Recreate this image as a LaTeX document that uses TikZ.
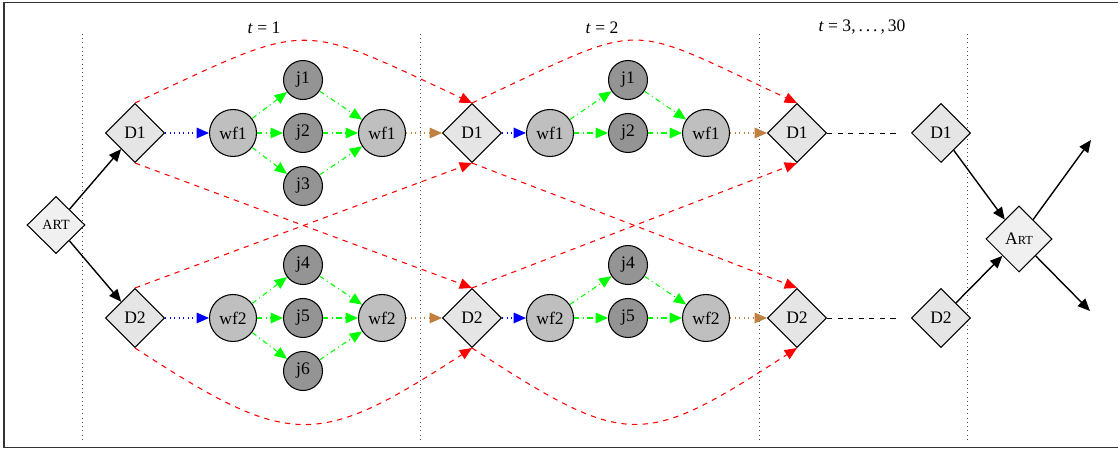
\documentclass[tikz,border=0pt]{standalone}
\usepackage{fontspec}
\setmainfont{Liberation Serif}
\usetikzlibrary{arrows.meta,shapes.geometric,positioning}

\begin{document}
\begin{tikzpicture}[->,>={Triangle[length=7pt,width=6pt]},auto,node distance=1.06cm,
                    semithick,x=0.02cm,y=0.02cm,
  dnode/.style={diamond,draw,fill=black!10,inner sep=0pt,aspect=1,
                minimum width=1.18cm,minimum height=1.18cm},
  artnode/.style={diamond,draw,fill=black!6,inner sep=0pt,aspect=1,
                minimum width=1.16cm,minimum height=1.14cm},
  wfnode/.style={circle,draw,fill=black!25,inner sep=0pt,minimum size=0.94cm},
  jnode/.style={circle,draw,fill=black!42,inner sep=0pt,minimum size=0.78cm},
  launch/.style={blue,dotted},
  fork/.style={green,dash dot},
  handoff/.style={brown,dotted},
  carry/.style={red,dashed}]

  \useasboundingbox (0,0) rectangle (1118,449);
  \draw[-,line width=0.9pt,black!80] (4,1.5) rectangle (1130,446.5);

  % time periods
  \draw[-,thin,dotted,black!70] (82,415) -- (82,7);
  \draw[-,thin,dotted,black!70] (420,415) -- (420,7);
  \draw[-,thin,dotted,black!70] (759,415) -- (759,7);
  \draw[-,thin,dotted,black!70] (967,415) -- (967,7);
  \node (t1) at (264,421) {\textit{t} = 1};
  \node (t2) at (602,421) {\textit{t} = 2};
  \node (t3) at (862,422) {\textit{t} = 3,\,.\,.\,.\,,\,30};

  \node[artnode] (artL) at (56,224) {\footnotesize ART};
  \node[dnode]   (d1a) at (135,316) {D1};
  \node[dnode]   (d2a) at (135,131) {D2};

  \node[wfnode]  (wf1a) at (233,316) {wf1};
  \node[jnode]   (j2a) at (303,316) {j2};
  \node[jnode]   (j1a) [above of=j2a] {j1};
  \node[jnode]   (j3a) [below of=j2a] {j3};
  \node[wfnode]  (wf1b) at (382,316) {wf1};

  \node[wfnode]  (wf2a) at (233,131) {wf2};
  \node[jnode]   (j5a) at (303,131) {j5};
  \node[jnode]   (j4a) [above of=j5a] {j4};
  \node[jnode]   (j6a) [below of=j5a] {j6};
  \node[wfnode]  (wf2b) at (382,131) {wf2};

  \node[dnode]   (d1b) at (472,316) {D1};
  \node[dnode]   (d2b) at (472,131) {D2};

  \node[wfnode]  (wf1c) at (550,316) {wf1};
  \node[jnode]   (j2b) at (628,316) {j2};
  \node[jnode]   (j1b) [above of=j2b] {j1};
  \node[wfnode]  (wf1d) at (706,316) {wf1};

  \node[wfnode]  (wf2c) at (550,131) {wf2};
  \node[jnode]   (j5b) at (628,131) {j5};
  \node[jnode]   (j4b) [above of=j5b] {j4};
  \node[wfnode]  (wf2d) at (706,131) {wf2};

  \node[dnode]   (d1c) at (797,316) {D1};
  \node[dnode]   (d2c) at (797,131) {D2};
  \coordinate    (e1) at (897,316);
  \coordinate    (e2) at (897,131);

  \node[dnode]   (d1d) at (941,316) {D1};
  \node[dnode]   (d2d) at (941,131) {D2};
  \node[artnode,minimum width=1.32cm,minimum height=1.32cm] (artR) at (1019,210) {A{\scriptsize RT}};
  \coordinate    (o1) at (1091,309);
  \coordinate    (o2) at (1090,138);

  \path (artL) edge [thick]    (d1a)
               edge [thick]    (d2a)
        (d1a)  edge [launch]   (wf1a)
        (wf1a) edge [fork]     (j1a)
               edge [fork]     (j2a)
               edge [fork]     (j3a)
        (j1a)  edge [fork]     (wf1b)
        (j2a)  edge [fork]     (wf1b)
        (j3a)  edge [fork]     (wf1b)
        (wf1b) edge [handoff]  (d1b)
        (d2a)  edge [launch]   (wf2a)
        (wf2a) edge [fork]     (j4a)
               edge [fork]     (j5a)
               edge [fork]     (j6a)
        (j4a)  edge [fork]     (wf2b)
        (j5a)  edge [fork]     (wf2b)
        (j6a)  edge [fork]     (wf2b)
        (wf2b) edge [handoff]  (d2b)
        (d1b)  edge [launch]   (wf1c)
        (wf1c) edge [fork]     (j1b)
               edge [fork]     (j2b)
        (j1b)  edge [fork]     (wf1d)
        (j2b)  edge [fork]     (wf1d)
        (wf1d) edge [handoff]  (d1c)
        (d2b)  edge [launch]   (wf2c)
        (wf2c) edge [fork]     (j4b)
               edge [fork]     (j5b)
        (j4b)  edge [fork]     (wf2d)
        (j5b)  edge [fork]     (wf2d)
        (wf2d) edge [handoff]  (d2c)
        (d1c)  edge [-,thin,dashed] (e1)
        (d2c)  edge [-,thin,dashed] (e2)
        (d1d)  edge [thick]    (artR)
        (d2d)  edge [thick]    (artR)
        (artR) edge [thick]    (o1)
               edge [thick]    (o2);

  % carried over decisions
  \path (d1a.north) edge [carry,out=25,in=155,looseness=1.49]   (d1b.north)
        (d1a.south) edge [carry]                                (d2b.north)
        (d2a.north) edge [carry]                                (d1b.south)
        (d2a.south) edge [carry,out=-33,in=-147,looseness=1.41] (d2b.south)
        (d1b.north) edge [carry,out=25,in=155,looseness=1.55]   (d1c.north)
        (d1b.south) edge [carry]                                (d2c.north)
        (d2b.north) edge [carry]                                (d1c.south)
        (d2b.south) edge [carry,out=-33,in=-147,looseness=1.46] (d2c.south);
\end{tikzpicture}
\end{document}
